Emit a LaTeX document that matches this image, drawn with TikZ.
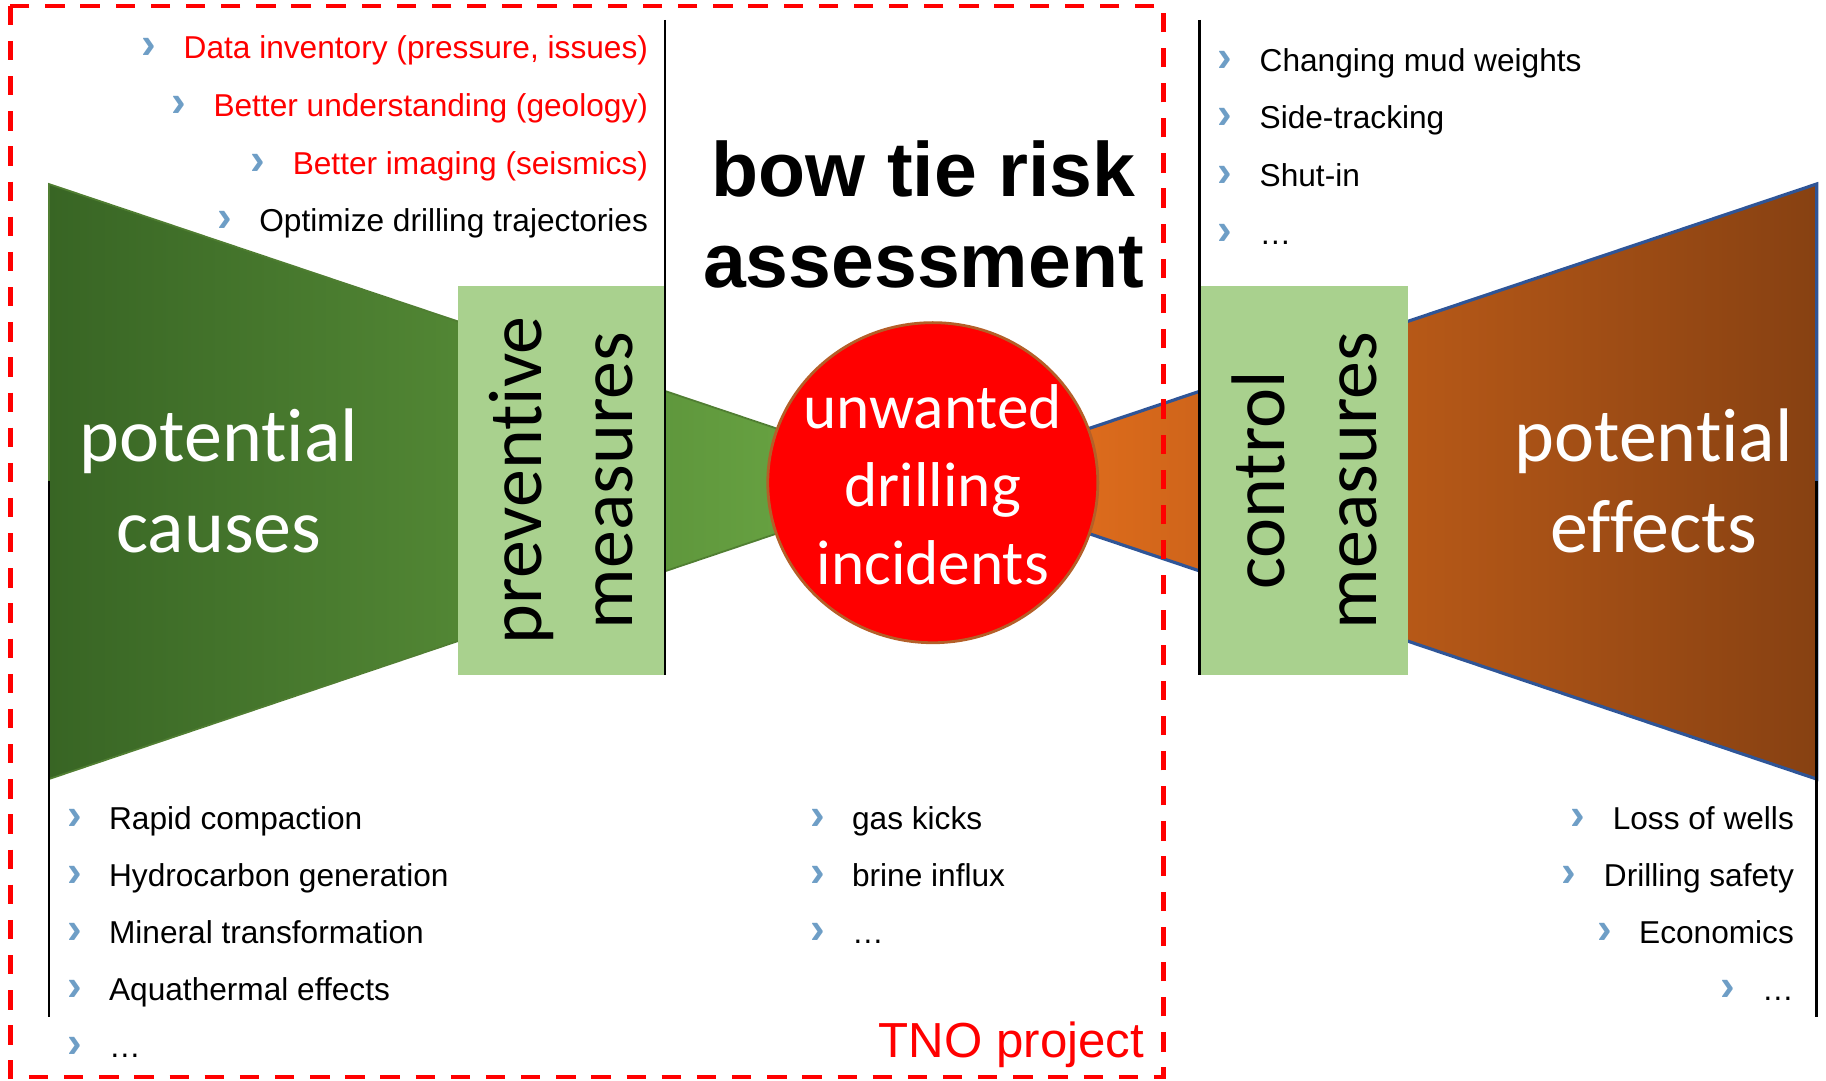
\documentclass[tikz,border=0pt]{standalone}
\usepackage{fontspec}
\setmainfont{Liberation Sans}
\newfontfamily\calibri[Ligatures=NoCommon]{Carlito}
\usetikzlibrary{shapes.geometric}
\definecolor{cause_dark}{RGB}{56, 101, 36}
\definecolor{cause_light}{RGB}{112, 173, 71}
\definecolor{effect_light}{RGB}{238, 116, 30}
\definecolor{effect_dark}{RGB}{135, 65, 18}
\definecolor{measure_green}{RGB}{169, 209, 142}
\definecolor{edge_blue}{RGB}{47, 85, 151}
\definecolor{edge_green}{RGB}{80, 126, 50}
\definecolor{edge_brown}{RGB}{180, 95, 40}
\definecolor{chev_blue}{RGB}{110, 158, 198}
\definecolor{tno_red}{RGB}{255, 0, 0}
\newcommand{\chev}{\makebox[0.42cm][l]{\fontsize{12.5}{12.5}\selectfont\bfseries\color{chev_blue}›}}
\tikzstyle{none}=[inner sep=0pt]
\tikzstyle{mbox}=[rectangle,fill=measure_green,rotate=90,minimum width=3.89cm,
  minimum height=2.07cm,inner sep=0pt,align=center,
  font=\calibri\fontsize{21.6}{26}\selectfont]
\tikzstyle{incident}=[ellipse,fill=red,draw=edge_brown,line width=0.8pt,
  minimum width=3.30cm,minimum height=3.20cm,inner sep=0pt]
\tikzstyle{bigtext}=[align=center,text=white,inner sep=0pt,
  font=\calibri\fontsize{21.6}{26}\selectfont]
\tikzstyle{smalltext}=[align=center,text=white,inner sep=0pt,
  font=\calibri\fontsize{18}{22.2}\selectfont]
\tikzstyle{headline}=[anchor=base,inner sep=0pt,
  font=\fontsize{21.9}{26}\selectfont\bfseries]
\tikzstyle{itemleft}=[anchor=base west,inner sep=0pt,font=\fontsize{9}{9}\selectfont]
\tikzstyle{itemright}=[anchor=base east,inner sep=0pt,font=\fontsize{9}{9}\selectfont]
\tikzstyle{frame}=[draw=tno_red,line width=1.3pt,dash pattern=on 5.5pt off 4.5pt]
\tikzstyle{rule}=[draw=black,line width=0.8pt]

\begin{document}
\begin{tikzpicture}[x=0.011645cm, y=-0.011645cm]
    \useasboundingbox (0, 0) rectangle (1568, 928);
    \node [style=none] (0) at (42, 158) {};
    \node [style=none] (1) at (42, 669) {};
    \node [style=none] (2) at (801, 413) {};
    \node [style=none] (3) at (1560, 158) {};
    \node [style=none] (4) at (1560, 669) {};
    \shade [left color=cause_dark, right color=cause_light, draw=edge_green, line width=0.5pt] (0.center) to (2.center) to (1.center) -- cycle;
    \shade [left color=effect_light, right color=effect_dark, draw=edge_blue, line width=0.9pt] (3.center) to (2.center) to (4.center) -- cycle;
    \node [style=mbox] (5) at (482, 412.5) {preventive\\measures};
    \node [style=mbox] (6) at (1120, 412.5) {control\\measures};
    \node [style=incident] (7) at (801, 414.5) {};
    \node [style=smalltext] (43) at (801, 416) {unwanted\\drilling\\incidents};
    \node [style=bigtext] (8) at (188, 413) {potential\\causes};
    \node [style=bigtext] (9) at (1420, 413) {potential\\effects};
    \node [style=none] (10) at (571, 17) {};
    \node [style=none] (11) at (571, 580) {};
    \node [style=none] (12) at (1030, 17) {};
    \node [style=none] (13) at (1030, 580) {};
    \node [style=none] (14) at (42, 413) {};
    \node [style=none] (15) at (42, 873) {};
    \node [style=none] (16) at (1560, 413) {};
    \node [style=none] (17) at (1560, 873) {};
    \draw [style=rule] (10.center) to (11.center);
    \draw [style=rule] (12.center) to (13.center);
    \draw [style=rule] (14.center) to (15.center);
    \draw [style=rule] (16.center) to (17.center);
    \node [style=headline] (18) at (793, 169) {bow tie risk};
    \node [style=headline] (19) at (793, 247) {assessment};
    \node [style=itemright, text=tno_red] (20) at (557, 50.5) {\chev Data inventory (pressure, issues)};
    \node [style=itemright, text=tno_red] (21) at (557, 100) {\chev Better understanding (geology)};
    \node [style=itemright, text=tno_red] (22) at (557, 149.5) {\chev Better imaging (seismics)};
    \node [style=itemright] (23) at (557, 199) {\chev Optimize drilling trajectories};
    \node [style=itemleft] (24) at (1045, 61.5) {\chev Changing mud weights};
    \node [style=itemleft] (25) at (1045, 110.5) {\chev Side-tracking};
    \node [style=itemleft] (26) at (1045, 160) {\chev Shut-in};
    \node [style=itemleft] (27) at (1045, 210) {\chev …};
    \node [style=itemleft] (28) at (57, 712) {\chev Rapid compaction};
    \node [style=itemleft] (29) at (57, 761) {\chev Hydrocarbon generation};
    \node [style=itemleft] (30) at (57, 810) {\chev Mineral transformation};
    \node [style=itemleft] (31) at (57, 859.5) {\chev Aquathermal effects};
    \node [style=itemleft] (32) at (57, 908.5) {\chev …};
    \node [style=itemleft] (33) at (695, 712) {\chev gas kicks};
    \node [style=itemleft] (34) at (695, 761) {\chev brine influx};
    \node [style=itemleft] (35) at (695, 810) {\chev …};
    \node [style=itemright] (36) at (1541, 712) {\chev Loss of wells};
    \node [style=itemright] (37) at (1541, 761) {\chev Drilling safety};
    \node [style=itemright] (38) at (1541, 810) {\chev Economics};
    \node [style=itemright] (39) at (1541, 859.5) {\chev …};
    \node [style=itemright, text=tno_red, font=\fontsize{14}{14}\selectfont] (40) at (983, 908.5) {TNO project};
    \node [style=none] (41) at (9, 5) {};
    \node [style=none] (42) at (999, 925) {};
    \draw [style=frame] (41.center) rectangle (42.center);
\end{tikzpicture}
\end{document}
